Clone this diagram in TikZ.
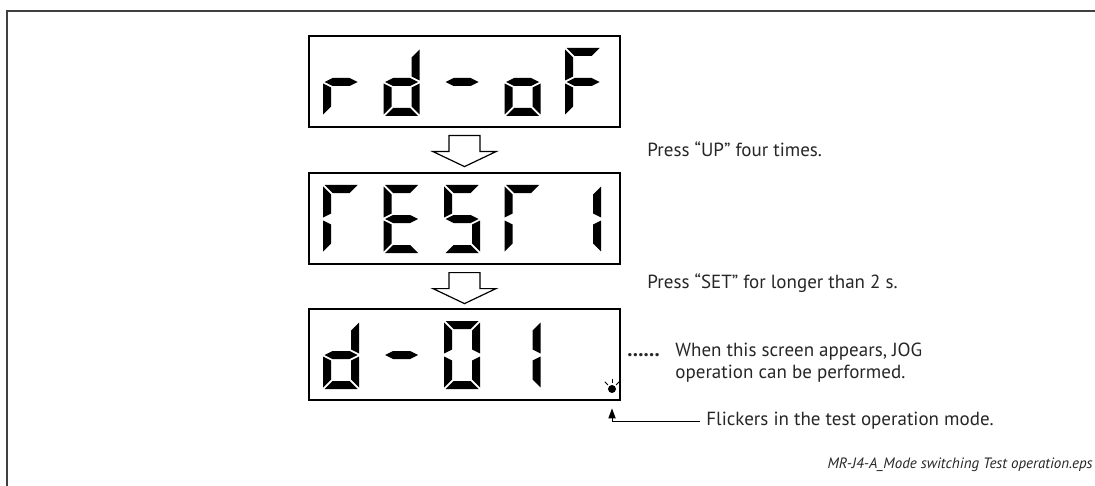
\documentclass[tikz,border=0pt]{standalone}
\usepackage{fontspec}
\setmainfont{PT Sans}
\usepackage{xstring}
\usetikzlibrary{arrows.meta}

% one segment of a seven-segment digit, #1 = left, #2 = top
\newcommand{\sega}[2]{\fill[seg] (#1+\sgap,#2) -- (#1+\segW-\sgap,#2) -- (#1+\segW-\sgap-\segT,#2+\segT) -- (#1+\sgap+\segT,#2+\segT) -- cycle;}
\newcommand{\segb}[2]{\fill[seg] (#1+\segW,#2+\sgap) -- (#1+\segW-\segT,#2+\sgap+\segT) -- (#1+\segW-\segT,#2+\segH/2-\sgap-\segT/2) -- (#1+\segW,#2+\segH/2-\sgap) -- cycle;}
\newcommand{\segc}[2]{\fill[seg] (#1+\segW,#2+\segH/2+\sgap) -- (#1+\segW-\segT,#2+\segH/2+\sgap+\segT/2) -- (#1+\segW-\segT,#2+\segH-\sgap-\segT) -- (#1+\segW,#2+\segH-\sgap) -- cycle;}
\newcommand{\segd}[2]{\fill[seg] (#1+\sgap,#2+\segH) -- (#1+\segW-\sgap,#2+\segH) -- (#1+\segW-\sgap-\segT,#2+\segH-\segT) -- (#1+\sgap+\segT,#2+\segH-\segT) -- cycle;}
\newcommand{\sege}[2]{\fill[seg] (#1,#2+\segH/2+\sgap) -- (#1+\segT,#2+\segH/2+\sgap+\segT/2) -- (#1+\segT,#2+\segH-\sgap-\segT) -- (#1,#2+\segH-\sgap) -- cycle;}
\newcommand{\segf}[2]{\fill[seg] (#1,#2+\sgap) -- (#1+\segT,#2+\sgap+\segT) -- (#1+\segT,#2+\segH/2-\sgap-\segT/2) -- (#1,#2+\segH/2-\sgap) -- cycle;}
\newcommand{\segg}[2]{\fill[seg] (#1+\sgap,#2+\segH/2) -- (#1+\sgap+\segT,#2+\segH/2-\segT/2) -- (#1+\segW-\sgap-\segT,#2+\segH/2-\segT/2) -- (#1+\segW-\sgap,#2+\segH/2) -- (#1+\segW-\sgap-\segT,#2+\segH/2+\segT/2) -- (#1+\sgap+\segT,#2+\segH/2+\segT/2) -- cycle;}

% whole digit: #3 = lit segments, e.g. bcdeg
\newcommand{\sevenseg}[3]{%
  \foreach \sg in {a,b,c,d,e,f,g}{\IfSubStr{#3}{\sg}{\csname seg\sg\endcsname{#1}{#2}}{}}}

\tikzset{
  disp/.style={draw, line width=0.6pt, minimum width=155.5pt, minimum height=45.5pt, inner sep=0pt},
  seg/.style={black},
  blockarrow/.style={draw, line width=0.6pt, fill=white, line join=miter},
  note/.style={inner sep=0pt, font=\fontsize{9.5}{11}\selectfont, align=left, text=black!85},
  pointer/.style={line width=0.5pt, -{Triangle[length=5pt,width=3.6pt]}},
}

\begin{document}
\begin{tikzpicture}[x=0.5pt, y=-0.5pt]
\useasboundingbox (0,0) rectangle (1095,486);

% Parameters
\def\segW{36}    % digit width
\def\segH{68}    % digit height
\def\segT{8}     % segment thickness
\def\sgap{1.5}   % gap between segments
\def\boxL{309}   % left edge of the displays
\def\pitch{60.5} % digit pitch

% outer frame (open at right and bottom)
\draw[line width=0.8pt, black!75] (1095,11) -- (7,11) -- (7,486);

% displays
\node[disp] (rdof) at (464.5,81.5) {};
\node[disp] (test1) at (464.5,218.5) {};
\node[disp] (d01) at (464.5,354.5) {};

% digits
\foreach \i/\segs in {0/eg,1/bcdeg,2/g,3/cdeg,4/aefg} {
    \pgfmathsetmacro\dx{\boxL+14+\i*\pitch}
    \sevenseg{\dx}{48}{\segs}
}
\foreach \i/\segs in {0/aef,1/adefg,2/acdfg,3/aef,4/bc} {
    \pgfmathsetmacro\dx{\boxL+14+\i*\pitch}
    \sevenseg{\dx}{185}{\segs}
}
\foreach \i/\segs in {0/bcdeg,1/g,2/abcdef,3/bc} {
    \pgfmathsetmacro\dx{\boxL+14+\i*\pitch}
    \sevenseg{\dx}{321}{\segs}
}

% flickering decimal point
\node[circle, fill, inner sep=0pt, minimum size=4pt] (lamp) at (612,389) {};
\foreach \a in {45,90,135}
    \draw[line width=0.5pt] (lamp.center) ++(\a:2.9pt) -- ++(\a:2.2pt);

% hollow arrows between displays
\foreach \from in {rdof,test1} {
    \draw[blockarrow] (\from.south) ++(-15.5,8) -- ++(0,16) -- ++(-16,0) -- ++(31.5,15)
        -- ++(31.5,-15) -- ++(-16,0) -- ++(0,-16) -- cycle;
}

% texts
\node[note, anchor=west] (upnote) at (647,149) {Press “UP” four times.};
\node[note, anchor=west] (setnote) at (647,283) {Press “SET” for longer than 2 s.};
\node[note, anchor=west, font=\fontsize{10.5}{11}\bfseries] (leader) at (627,355) {......};
\node[note, anchor=north west] (jognote) at (675,343) {When this screen appears, JOG\\operation can be performed.};
\node[note, anchor=west] (flicknote) at (706,421) {Flickers in the test operation mode.};
\node[inner sep=0pt, anchor=east, font=\fontsize{7.5}{9}\selectfont\itshape, text=black!85] (fname) at (1093,465) {MR-J4-A\_Mode switching Test operation.eps};

% pointer to the decimal point
\draw[pointer] ([xshift=-3pt]flicknote.west) -| ([yshift=-7.5pt]lamp.south);

\end{tikzpicture}
\end{document}
